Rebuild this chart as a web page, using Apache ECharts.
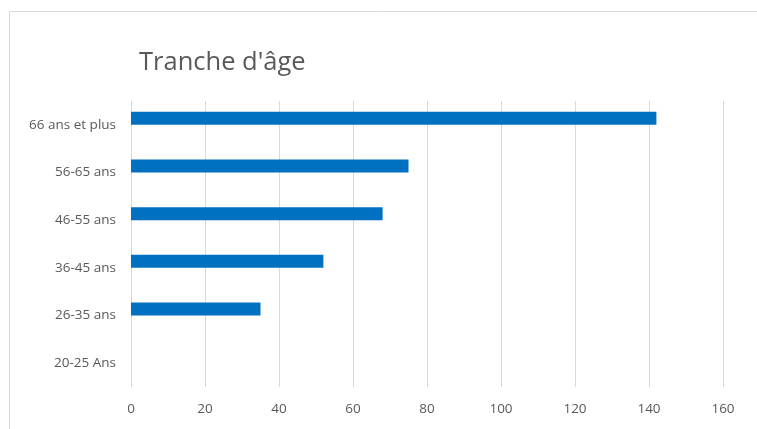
<!DOCTYPE html>
<html>
<head>
<meta charset="utf-8">
<script src="https://cdn.jsdelivr.net/npm/echarts@6/dist/echarts.min.js"></script>
<style>
html,body{margin:0;padding:0;background:#fff;}
#chart{width:757px;height:429px;}
</style>
</head>
<body>
<div id="chart"></div>
<script>
const categories = ['66 ans et plus', '56-65 ans', '46-55 ans', '36-45 ans', '26-35 ans', '20-25 Ans'];
const values = [142, 75, 68, 52, 35, 0];
const xTicks = { min: 0, max: 160, interval: 20 };
const titleText = "Tranche d'âge";

const chart = echarts.init(document.getElementById('chart'), null, { renderer: 'canvas' });
chart.setOption({
  animation: false,
  backgroundColor: '#ffffff',
  graphic: [{
    type: 'rect',
    shape: { x: 9.5, y: 11.5, width: 800, height: 500 },
    style: { fill: 'none', stroke: '#d9d9d9', lineWidth: 1 },
    silent: true
  }],
  title: {
    text: titleText,
    left: 134,
    top: 45,
    textStyle: { fontFamily: 'Open Sans', fontSize: 25.5, fontWeight: 'normal', color: '#595959' }
  },
  grid: { left: 131, top: 101, right: 34, bottom: 42, containLabel: false },
  xAxis: {
    type: 'value',
    min: xTicks.min,
    max: xTicks.max,
    interval: xTicks.interval,
    axisLine: { show: false },
    axisTick: { show: false },
    axisLabel: { margin: 15, color: '#595959', fontFamily: 'Open Sans', fontSize: 13.5 },
    splitLine: { show: true, lineStyle: { color: '#d9d9d9', width: 1 } }
  },
  yAxis: {
    type: 'category',
    data: categories,
    inverse: true,
    axisLine: { show: true, lineStyle: { color: '#d9d9d9', width: 1 } },
    axisTick: { show: false },
    axisLabel: { margin: 15, color: '#595959', fontFamily: 'Open Sans', fontSize: 13.5 },
    splitLine: { show: false }
  },
  series: [
    {
      type: 'bar',
      name: 'Tranche',
      data: values,
      barWidth: 13,
      barGap: '0%',
      itemStyle: { color: '#0070C0' }
    },
    {
      type: 'bar',
      name: 'vide',
      data: [],
      barWidth: 13,
      barGap: '0%',
      itemStyle: { color: '#ED7D31' }
    }
  ]
});
</script>
</body>
</html>
